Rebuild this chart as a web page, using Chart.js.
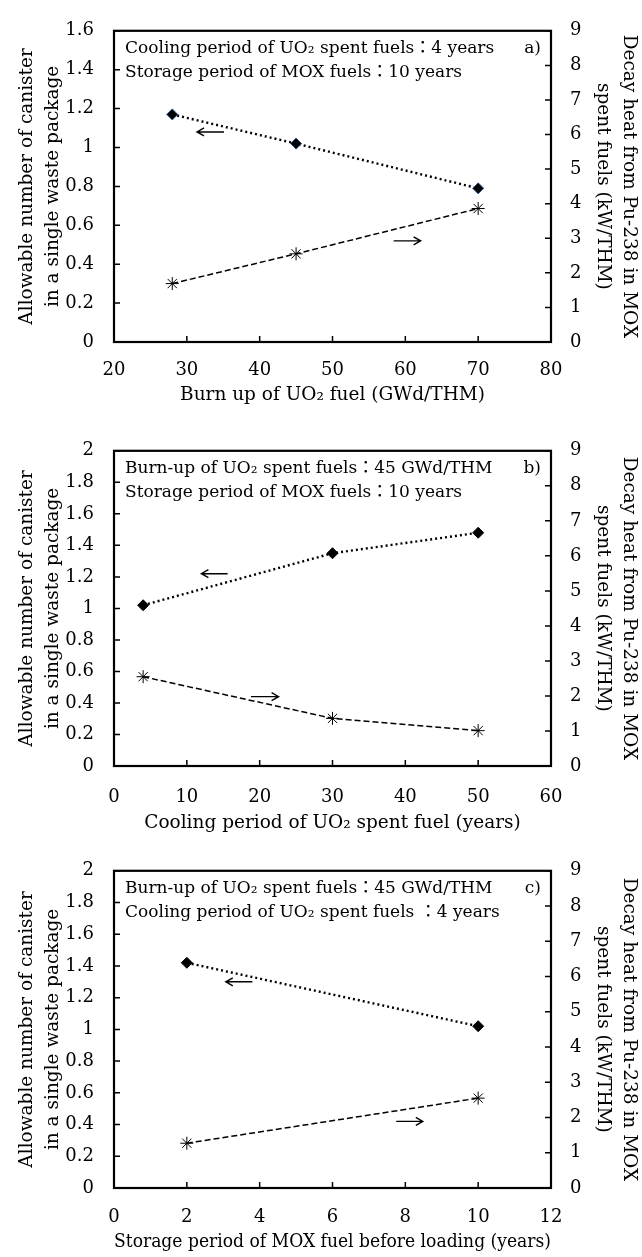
<!DOCTYPE html>
<html>
<head>
<meta charset="utf-8">
<script src="https://cdn.jsdelivr.net/npm/chart.js@4.4.1/dist/chart.umd.min.js"></script>
<style>
  body { margin: 0; background: #fff; }
  .panel { position: absolute; left: 0; }
</style>
</head>
<body>
<div class="panel" style="top:0"><canvas id="chartA" width="642" height="420"></canvas></div>
<div class="panel" style="top:420px"><canvas id="chartB" width="642" height="420"></canvas></div>
<div class="panel" style="top:840px"><canvas id="chartC" width="642" height="417"></canvas></div>
<script>
// ---- data ----
const burnup = [28, 45, 70];
const canisterA = [1.17, 1.02, 0.79];
const decayHeatA = [1.69, 2.55, 3.86];

const coolingYears = [4, 30, 50];
const canisterB = [1.02, 1.35, 1.48];
const decayHeatB = [2.55, 1.36, 1.01];

const storageYears = [2, 10];
const canisterC = [1.42, 1.02];
const decayHeatC = [1.27, 2.55];

// axis ranges [min, max, step]
const xRangeA = [20, 80, 10];
const xRangeB = [0, 60, 10];
const xRangeC = [0, 12, 2];
const leftMaxA = 1.6;
const leftMaxBC = 2;
const rightRange = [0, 9, 1];

const SERIF = "'DejaVu Serif', 'Noto Sans CJK JP', serif";
Chart.defaults.color = '#000';
Chart.defaults.font.family = SERIF;

function pairs(xs, ys) {
    return xs.map((x, i) => ({ x: x, y: ys[i] }));
}

// box round the plot + inward tick marks
const frameTicks = {
    id: 'frameTicks',
    afterDatasetsDraw(chart) {
        const { ctx, chartArea: a, scales } = chart;
        ctx.save();
        ctx.strokeStyle = '#000';
        ctx.lineWidth = 1.5;
        ctx.beginPath();
        scales.x.ticks.forEach(t => {
            const px = scales.x.getPixelForValue(t.value);
            ctx.moveTo(px, a.bottom); ctx.lineTo(px, a.bottom - 6);
        });
        scales.y.ticks.forEach(t => {
            const py = scales.y.getPixelForValue(t.value);
            ctx.moveTo(a.left, py); ctx.lineTo(a.left + 6, py);
        });
        scales.y2.ticks.forEach(t => {
            const py = scales.y2.getPixelForValue(t.value);
            ctx.moveTo(a.right, py); ctx.lineTo(a.right - 6, py);
        });
        ctx.stroke();
        ctx.lineWidth = 2.2;
        ctx.strokeRect(a.left, a.top, a.right - a.left, a.bottom - a.top);
        ctx.restore();
    }
};

// condition text, panel tag and the two arrows
const notes = {
    id: 'notes',
    afterDraw(chart, args, opts) {
        const { ctx, chartArea: a, scales } = chart;
        ctx.save();
        ctx.fillStyle = '#000';
        ctx.font = '17px ' + SERIF;
        ctx.textBaseline = 'middle';
        ctx.textAlign = 'left';
        opts.lines.forEach((txt, i) => ctx.fillText(txt, a.left + 11, a.top + 18 + i * 24));
        ctx.textAlign = 'right';
        ctx.fillText(opts.tag, a.right - 10, a.top + 18);

        ctx.strokeStyle = '#000';
        ctx.lineWidth = 1.4;
        opts.arrows.forEach(ar => {
            const x1 = scales.x.getPixelForValue(ar[0]);
            const x2 = scales.x.getPixelForValue(ar[1]);
            const y = scales.y.getPixelForValue(ar[2]);
            const dir = x2 > x1 ? 1 : -1;
            ctx.beginPath();
            ctx.moveTo(x1, y); ctx.lineTo(x2, y);
            ctx.moveTo(x2 - dir * 7, y - 4); ctx.lineTo(x2, y); ctx.lineTo(x2 - dir * 7, y + 4);
            ctx.stroke();
        });
        ctx.restore();
    }
};

function makeChart(id, p) {
    return new Chart(document.getElementById(id), {
        type: 'line',
        data: {
            datasets: [
                {
                    data: pairs(p.x, p.canister),
                    yAxisID: 'y',
                    borderColor: '#000',
                    borderWidth: 2.4,
                    borderDash: [2, 3],
                    pointStyle: 'rectRot',
                    pointRadius: 5.5,
                    pointBackgroundColor: '#000',
                    pointBorderColor: p.diamondEdge,
                    pointBorderWidth: 1
                },
                {
                    data: pairs(p.x, p.decay),
                    yAxisID: 'y2',
                    borderColor: '#000',
                    borderWidth: 1.5,
                    borderDash: [6, 3],
                    pointStyle: 'star',
                    pointRadius: 6.5,
                    pointBorderColor: '#000',
                    pointBorderWidth: 1
                }
            ]
        },
        options: {
            responsive: false,
            animation: false,
            devicePixelRatio: 1,
            layout: { padding: { top: p.top, left: 0, right: 0, bottom: 0 } },
            plugins: {
                legend: { display: false },
                tooltip: { enabled: false },
                notes: { lines: p.lines, tag: p.tag, arrows: p.arrows }
            },
            scales: {
                x: {
                    type: 'linear',
                    min: p.xRange[0], max: p.xRange[1],
                    ticks: { stepSize: p.xRange[2], padding: p.xPad, font: { size: 18 } },
                    grid: { display: false, drawTicks: false },
                    border: { display: false },
                    title: { display: true, text: p.xTitle, font: { size: 18.5, lineHeight: 1.2 }, padding: { top: 0, bottom: p.titleBottom } },
                    afterFit(s) { s.height = p.xHeight; }
                },
                y: {
                    position: 'left',
                    min: 0, max: p.leftMax,
                    ticks: { stepSize: 0.2, padding: 20, font: { size: 18 }, callback: v => String(+v.toFixed(2)) },
                    grid: { display: false, drawTicks: false },
                    border: { display: false },
                    title: {
                        display: true,
                        text: ['Allowable number of canister', 'in a single waste package'],
                        font: { size: 18.5, lineHeight: 1.4 },
                        padding: { top: 14, bottom: 0 }
                    },
                    afterFit(s) { s.width = 114; }
                },
                y2: {
                    position: 'right',
                    min: rightRange[0], max: rightRange[1],
                    ticks: { stepSize: rightRange[2], padding: 19, font: { size: 18 } },
                    grid: { display: false, drawTicks: false },
                    border: { display: false },
                    title: {
                        display: true,
                        text: ['Decay heat from Pu-238 in MOX', 'spent fuels (kW/THM)'],
                        font: { size: 18.5, lineHeight: 1.4 },
                        padding: { top: 0, bottom: 0 }
                    },
                    afterFit(s) { s.width = 91; }
                }
            }
        },
        plugins: [frameTicks, notes]
    });
}

makeChart('chartA', {
    x: burnup, canister: canisterA, decay: decayHeatA,
    xRange: xRangeA, leftMax: leftMaxA,
    top: 17, xHeight: 78, xPad: 18, titleBottom: 14,
    xTitle: 'Burn up of UO\u2082 fuel (GWd/THM)',
    diamondEdge: '#2b4f86',
    lines: ['Cooling period of UO\u2082 spent fuels\uFF1A4 years', 'Storage period of MOX fuels\uFF1A10 years'],
    tag: 'a)',
    arrows: [[35.1, 31.4, 1.08], [58.4, 62.1, 0.52]]
});

makeChart('chartB', {
    x: coolingYears, canister: canisterB, decay: decayHeatB,
    xRange: xRangeB, leftMax: leftMaxBC,
    top: 20, xHeight: 74, xPad: 21, titleBottom: 6,
    xTitle: 'Cooling period of UO\u2082 spent fuel (years)',
    diamondEdge: '#000',
    lines: ['Burn-up of UO\u2082 spent fuels\uFF1A45 GWd/THM', 'Storage period of MOX fuels\uFF1A10 years'],
    tag: 'b)',
    arrows: [[15.6, 12.0, 1.22], [18.8, 22.6, 0.44]]
});

makeChart('chartC', {
    x: storageYears, canister: canisterC, decay: decayHeatC,
    xRange: xRangeC, leftMax: leftMaxBC,
    top: 21, xHeight: 69, xPad: 19, titleBottom: 4,
    xTitle: 'Storage period of MOX fuel before loading (years)',
    diamondEdge: '#000',
    lines: ['Burn-up of UO\u2082 spent fuels\uFF1A45 GWd/THM', 'Cooling period of UO\u2082 spent fuels \uFF1A4 years'],
    tag: 'c)',
    arrows: [[3.8, 3.07, 1.30], [7.75, 8.48, 0.42]]
});
</script>
</body>
</html>
